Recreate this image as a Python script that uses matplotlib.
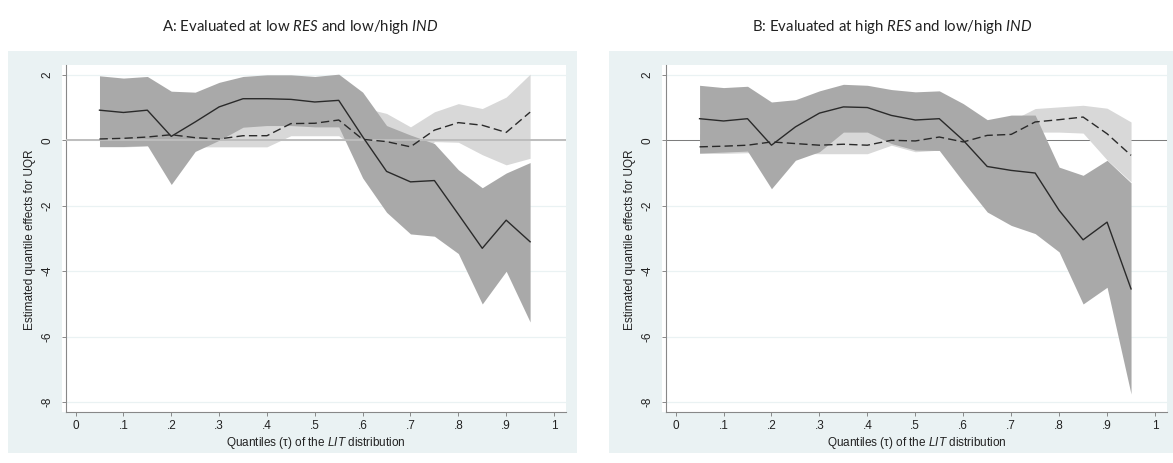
import matplotlib.pyplot as plt
from matplotlib.patches import Rectangle

plt.rcParams['font.family'] = ['Liberation Sans', 'DejaVu Sans']
plt.rcParams['mathtext.fontset'] = 'custom'
plt.rcParams['mathtext.rm'] = 'Lato'
plt.rcParams['mathtext.it'] = 'Lato:italic'
plt.rcParams['mathtext.sf'] = 'Liberation Sans:italic'

# quantiles of the LIT distribution
tau = [0.05, 0.10, 0.15, 0.20, 0.25, 0.30, 0.35, 0.40, 0.45, 0.50,
       0.55, 0.60, 0.65, 0.70, 0.75, 0.80, 0.85, 0.90, 0.95]

# panel A: low RES
a_solid = [0.92, 0.85, 0.92, 0.12, 0.56, 1.02, 1.27, 1.27, 1.25, 1.17,
           1.22, 0.11, -0.95, -1.27, -1.23, -2.26, -3.30, -2.44, -3.10]
a_solid_hi = [1.97, 1.90, 1.95, 1.50, 1.47, 1.77, 1.95, 2.00, 2.00, 1.95,
              2.02, 1.47, 0.45, 0.16, -0.10, -0.90, -1.45, -1.00, -0.68]
a_solid_lo = [-0.19, -0.19, -0.16, -1.35, -0.34, 0.00, 0.40, 0.45, 0.45, 0.41,
              0.41, -1.15, -2.20, -2.86, -2.93, -3.46, -5.00, -4.00, -5.55]
a_dash = [0.04, 0.06, 0.10, 0.17, 0.08, 0.04, 0.14, 0.14, 0.51, 0.52,
          0.62, 0.03, -0.04, -0.20, 0.31, 0.54, 0.46, 0.24, 0.86]
a_dash_hi = [0.30, 0.30, 0.35, 0.50, 0.35, 0.30, 0.45, 0.45, 0.90, 0.95,
             1.10, 1.00, 0.82, 0.41, 0.87, 1.12, 0.97, 1.32, 2.02]
a_dash_lo = [-0.20, -0.20, -0.18, -0.15, -0.20, -0.20, -0.20, -0.20, 0.14, 0.14,
             0.14, -0.40, -0.70, -0.80, -0.04, -0.06, -0.44, -0.75, -0.55]

# panel B: high RES
b_solid = [0.66, 0.59, 0.66, -0.15, 0.41, 0.83, 1.02, 1.00, 0.76, 0.62,
           0.66, 0.00, -0.80, -0.92, -1.00, -2.14, -3.04, -2.50, -4.54]
b_solid_hi = [1.68, 1.61, 1.65, 1.17, 1.24, 1.51, 1.71, 1.68, 1.55, 1.48,
              1.51, 1.12, 0.63, 0.77, 0.77, -0.82, -1.07, -0.61, -1.30]
b_solid_lo = [-0.39, -0.36, -0.33, -1.48, -0.61, -0.35, 0.25, 0.25, -0.10, -0.30,
              -0.31, -1.27, -2.19, -2.60, -2.85, -3.41, -5.00, -4.49, -7.75]
b_dash = [-0.20, -0.18, -0.15, -0.05, -0.10, -0.15, -0.12, -0.15, 0.00, -0.02,
          0.10, -0.05, 0.15, 0.18, 0.56, 0.63, 0.71, 0.20, -0.46]
b_dash_hi = [0.20, 0.20, 0.20, 0.30, 0.25, 0.20, 0.32, 0.32, 0.40, 0.35,
             0.45, 0.40, 0.50, 0.60, 0.97, 1.02, 1.07, 0.98, 0.56]
b_dash_lo = [-0.40, -0.40, -0.38, -0.35, -0.40, -0.41, -0.41, -0.41, -0.15, -0.35,
             -0.30, -0.50, -0.20, -0.20, 0.25, 0.25, 0.22, -0.60, -1.27]

xticks = [0, 0.1, 0.2, 0.3, 0.4, 0.5, 0.6, 0.7, 0.8, 0.9, 1.0]
xticklabels = ['0', '.1', '.2', '.3', '.4', '.5', '.6', '.7', '.8', '.9', '1']
yticks = [-8, -6, -4, -2, 0, 2]
yticklabels = ['-8', '-6', '-4', '-2', '0', '2']

titles = ['A: Evaluated at low $\\mathit{RES}$ and low/high $\\mathit{IND}$',
          'B: Evaluated at high $\\mathit{RES}$ and low/high $\\mathit{IND}$']
ylab = 'Estimated quantile effects for UQR'
xlab = 'Quantiles (\u03c4) of the $\\mathsf{LIT}$ distribution'

BG = '#eaf2f3'
DARK = '#a9a9a9'
LIGHT = '#d8d8d8'
INK = '#2a2a2a'

W, H = 1173, 463
fig = plt.figure(figsize=(W / 100, H / 100), dpi=100)


def box(x0, y0, x1, y1):
    return [x0 / W, 1 - y1 / H, (x1 - x0) / W, (y1 - y0) / H]


def panel(ox0, ox1, ax0, ax1, title_x, title, solid, s_hi, s_lo,
          dash, d_hi, d_lo, zero_on_top):
    r = box(ox0, 51, ox1, 453)
    fig.add_artist(Rectangle((r[0], r[1]), r[2], r[3], transform=fig.transFigure,
                             fc=BG, ec='none', zorder=-3))
    r = box(ax0 - 4, 65, ax1, 412)
    fig.add_artist(Rectangle((r[0], r[1]), r[2], r[3], transform=fig.transFigure,
                             fc='white', ec='none', zorder=-2))
    ax = fig.add_axes(box(ax0, 65, ax1, 412))
    ax.set_facecolor('white')

    for y in yticks:
        ax.axhline(y, color=BG, lw=0.9, zorder=0)
    if zero_on_top:
        ax.axhline(0, color='#bdbdbd', lw=1.4, zorder=3)
    else:
        ax.axhline(0, color='#7a7a7a', lw=0.7, zorder=0.5)

    ax.fill_between(tau, d_lo, d_hi, color=LIGHT, lw=0, zorder=1)
    ax.fill_between(tau, s_lo, s_hi, color=DARK, lw=0, zorder=2)
    ax.plot(tau, solid, color=INK, lw=1.0, zorder=4)
    ax.plot(tau, dash, color=INK, lw=1.0, dashes=(6, 3), zorder=4)

    ax.set_xlim(-0.02, 1.025)
    ax.set_ylim(-8.3, 2.3)
    ax.set_xticks(xticks, xticklabels)
    ax.set_yticks(yticks)
    ax.set_yticklabels(yticklabels, rotation=90, va='center')
    ax.tick_params(length=3, width=0.6, color='#777777', labelsize=8.5,
                   labelcolor='#222222')
    ax.tick_params(axis='x', pad=3)
    ax.tick_params(axis='y', pad=6)
    for s in ('top', 'right'):
        ax.spines[s].set_visible(False)
    for s in ('left', 'bottom'):
        ax.spines[s].set_color('#888888')
        ax.spines[s].set_linewidth(0.8)

    fig.text(title_x / W, 1 - 27 / H, title, family='Lato', fontsize=10.8,
             color='#222222', ha='center', va='center')
    fig.text((ax0 - 36) / W, 1 - 240 / H, ylab, fontsize=8.5, rotation=90,
             color='#222222', ha='center', va='center')
    fig.text((ax0 + ax1) / 2 / W, 1 - 443 / H, xlab, fontsize=8.5,
             color='#222222', ha='center', va='center')


panel(8, 577, 66, 566, 300, titles[0], a_solid, a_solid_hi, a_solid_lo,
      a_dash, a_dash_hi, a_dash_lo, True)
panel(609, 1173, 666, 1167, 892, titles[1], b_solid, b_solid_hi, b_solid_lo,
      b_dash, b_dash_hi, b_dash_lo, False)

fig.savefig('out.png', dpi=100, facecolor='white')
